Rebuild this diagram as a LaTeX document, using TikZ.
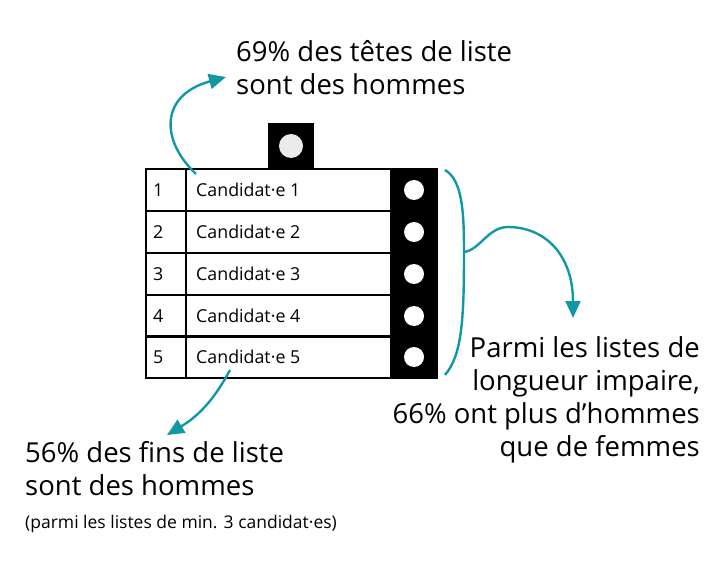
\documentclass[tikz,border=0pt]{standalone}
\usepackage{fontspec}
\setmainfont{Open Sans}
\usetikzlibrary{arrows.meta}
\definecolor{teal1}{HTML}{1298A4}
\definecolor{lgray}{HTML}{EBEBEB}
\tikzset{
  cell/.style={draw=black, line width=1.6pt, minimum height=42pt, inner sep=0pt, outer sep=0pt},
  dot/.style={circle, fill=white, minimum size=20pt, inner sep=0pt},
  conn/.style={draw=teal1, line width=2.4pt, -{Triangle[width=15pt,length=17pt]}},
  big/.style={font=\fontsize{27.5}{33}\selectfont, inner sep=0pt, align=left},
  cand/.style={font=\fontsize{17.8}{18}\selectfont, inner sep=0pt, anchor=base west},
}
\begin{document}
\begin{tikzpicture}[x=1pt,y=-1pt]
\useasboundingbox (0,0) rectangle (722,561);
% top tab
\node[fill=black, minimum width=46pt, minimum height=46pt, inner sep=0pt] (tab) at (291,146) {};
\node[circle, fill=lgray, minimum size=24pt, inner sep=0pt] (tabdot) at (tab.center) {};
% black column
\node[fill=black, draw=black, line width=1.6pt, minimum width=46pt, minimum height=209pt, inner sep=0pt] (col) at (414,273.5) {};
% rows
\foreach \i/\y in {1/190,2/232,3/274,4/316,5/357}{
  \node[cell, minimum width=40pt] (n\i) at (166,\y) {};
  \node[cell, minimum width=205pt] (c\i) at (288.5,\y) {};
  \node[cand] (nt\i) at (153,\y+6.5) {\i};
  \node[cand] (ct\i) at (196,\y+6.5) {Candidat·e \i};
  \node[dot] (d\i) at (414,\y) {};
}
% texts (base anchor = last line baseline)
\node[big, anchor=base west] (t1) at (236,95) {69\% des têtes de liste\\sont des hommes};
\node[big, anchor=base east, align=right] (t2) at (700,456) {Parmi les listes de\\longueur impaire,\\66\% ont plus d’hommes\\que de femmes};
\node[big, anchor=base west] (t3) at (25,495) {56\% des fins de liste\\sont des hommes};
\node[font=\fontsize{17.5}{18}\selectfont, inner sep=0pt, anchor=base west] (t4) at (25,528) {(parmi les listes de min. 3 candidat·es)};
% connectors
\coordinate (a1s) at (196,174);
\coordinate (a1e) at (226,77);
\draw[conn] (a1s) .. controls (160,140) and (160,95) .. (a1e);
\coordinate (brT) at (445,170);
\coordinate (brM) at (464,252);
\coordinate (brB) at (445,375);
\draw[teal1, line width=2.4pt] (brT) .. controls (462,180) and (464,210) .. (brM) .. controls (464,320) and (462,355) .. (brB);
\coordinate (a2e) at (573,318);
\draw[conn] (brM) .. controls (480,250) and (488,227) .. (508,227) .. controls (545,227) and (573,255) .. (a2e);
\coordinate (a3s) at (230,370);
\coordinate (a3e) at (167,435);
\draw[conn] (a3s) .. controls (215,398) and (200,415) .. (a3e);
\end{tikzpicture}
\end{document}
